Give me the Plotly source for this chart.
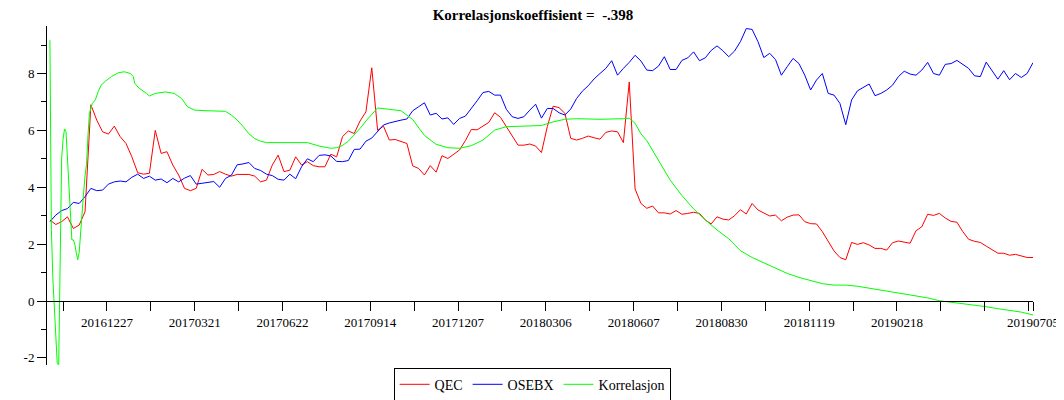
import plotly.graph_objects as go

title_text = "Korrelasjonskoeffisient = \u00a0-.398"
series_names = ["QEC", "OSEBX", "Korrelasjon"]
series_colors = ["#ff0000", "#0000ff", "#00ff00"]

# trading-day sampling step for QEC / OSEBX series
step = 4

qec = [
    2.85, 2.69, 2.79, 2.96, 2.55, 2.67, 3.14, 6.90, 6.36, 5.95, 5.87, 6.15, 5.78, 5.54, 5.07, 4.51,
    4.46, 4.49, 6.00, 5.19, 5.25, 4.78, 4.43, 3.96, 3.88, 3.96, 4.63, 4.43, 4.45,
    4.55, 4.46, 4.39, 4.45, 4.44, 4.45, 4.39, 4.19, 4.25, 4.78, 5.13, 4.55, 4.60, 5.07,
    4.78, 4.90, 4.76, 4.72, 4.72, 5.16, 5.07, 5.78, 5.98, 5.89, 6.33, 6.65, 8.20, 6.00,
    6.15, 5.66, 5.68, 5.60, 5.54, 4.75, 4.66, 4.43, 4.76, 4.53, 5.11, 5.01, 5.16, 5.31,
    5.64, 6.03, 6.02, 6.15, 6.28, 6.62, 6.46, 6.13, 5.78, 5.48, 5.48, 5.52, 5.45, 5.22,
    6.13, 6.85, 6.80, 6.60, 5.72, 5.66, 5.72, 5.80, 5.74, 5.69, 5.93, 5.98, 5.95, 5.57,
    7.70, 3.94, 3.43, 3.26, 3.34, 3.10, 3.10, 3.06, 3.18, 3.05, 3.08, 3.12, 3.08, 2.85,
    2.71, 2.96, 2.88, 2.85, 3.00, 3.21, 3.06, 3.43, 3.20, 3.10, 2.99, 3.02, 2.82, 2.95,
    3.02, 3.03, 2.79, 2.72, 2.71, 2.44, 2.09, 1.76, 1.53, 1.45, 2.06, 1.99, 2.05, 1.97, 1.85,
    1.85, 1.79, 2.05, 2.11, 2.06, 2.03, 2.47, 2.61, 3.05, 3.01, 3.08, 2.92, 2.80, 2.77,
    2.44, 2.17, 2.10, 2.06, 1.93, 1.79, 1.68, 1.68, 1.61, 1.64, 1.59, 1.53, 1.53,
]

osebx = [
    2.79, 3.02, 3.18, 3.25, 3.47, 3.43, 3.67, 3.96, 3.88, 3.90, 4.11, 4.19, 4.22, 4.19, 4.35, 4.46,
    4.31, 4.39, 4.25, 4.29, 4.16, 4.31, 4.19, 4.32, 4.41, 4.11, 4.14, 4.18, 4.20,
    4.00, 4.31, 4.42, 4.79, 4.82, 4.87, 4.66, 4.59, 4.46, 4.41, 4.28, 4.25, 4.46, 4.30,
    4.72, 5.00, 4.90, 5.12, 5.14, 5.10, 4.91, 4.90, 4.94, 5.33, 5.34, 5.62, 5.73, 5.98,
    6.19, 6.26, 6.32, 6.36, 6.40, 6.69, 6.83, 6.97, 6.54, 6.60, 6.40, 6.44, 6.21, 6.42,
    6.50, 6.75, 7.04, 7.33, 7.37, 7.24, 7.24, 6.74, 6.48, 6.42, 6.48, 6.71, 6.92, 6.43,
    6.77, 6.77, 6.62, 6.54, 6.75, 7.12, 7.38, 7.57, 7.81, 8.00, 8.18, 8.45, 7.94, 8.18,
    8.39, 8.64, 8.44, 8.12, 8.10, 8.26, 8.59, 8.14, 8.14, 8.46, 8.55, 8.76, 8.45, 8.55,
    8.81, 8.97, 8.80, 8.59, 8.79, 9.12, 9.58, 9.55, 9.12, 8.56, 8.71, 8.49, 7.94, 8.24,
    8.53, 8.35, 7.94, 7.42, 7.77, 8.00, 7.30, 7.24, 6.95, 6.20, 7.07, 7.39, 7.50, 7.63, 7.22,
    7.30, 7.42, 7.59, 7.89, 8.08, 7.98, 7.94, 8.12, 8.39, 8.00, 7.94, 8.32, 8.35, 8.46,
    8.33, 8.18, 7.92, 7.89, 8.40, 8.12, 7.80, 8.10, 7.78, 8.00, 7.86, 8.00, 8.38,
]

days = list(range(0, step * len(qec), step))

korr_days = [
    0, 1, 2, 3, 4, 5, 6, 7, 8, 9, 10, 11, 12, 13, 14, 15, 16, 17, 18, 19, 20, 21, 22, 23, 24, 25,
    26, 27, 29, 31, 33, 35, 38, 42, 47, 51, 55, 57, 58, 61, 66, 68, 72, 79, 85, 90, 94, 99, 108,
    116, 120, 124, 128, 132, 136, 140, 144, 148, 160, 176, 184, 192, 196, 200, 204, 208, 212,
    216, 220, 224, 232, 240, 248, 256, 264, 272, 280, 288, 296, 304, 312, 320, 336, 344, 352,
    360, 376, 392, 396, 400, 404, 408, 412, 416, 424, 432, 440, 448, 456, 464, 472, 480, 488,
    496, 504, 512, 520, 528, 536, 544, 552, 560, 568, 576, 584, 592, 600, 608, 616, 624, 632,
    640, 648, 656, 664, 672,
]
korr = [
    9.17, 2.50, 0.80, -0.30, -1.60, -2.20, -2.25, 2.20, 5.00, 5.70, 6.05, 5.95, 4.90, 3.80, 2.90,
    2.15, 2.15, 2.00, 1.70, 1.45, 1.70, 2.50, 3.30, 3.80, 4.40, 4.80, 5.80, 6.60, 6.95, 7.07,
    7.36, 7.59, 7.73, 7.89, 8.03, 8.06, 8.00, 7.89, 7.65, 7.48, 7.30, 7.21, 7.30, 7.35, 7.30,
    7.12, 6.83, 6.71, 6.69, 6.69, 6.67, 6.54, 6.36, 6.14, 5.88, 5.71, 5.62, 5.57, 5.58, 5.57,
    5.45, 5.37, 5.39, 5.47, 5.62, 5.83, 6.07, 6.33, 6.57, 6.79, 6.74, 6.69, 6.38, 5.82, 5.51,
    5.39, 5.37, 5.46, 5.66, 6.01, 6.13, 6.15, 6.17, 6.30, 6.39, 6.41, 6.39, 6.41, 6.43, 6.25,
    5.88, 5.64, 5.28, 4.93, 4.25, 3.71, 3.24, 2.85, 2.50, 2.19, 1.77, 1.53, 1.34, 1.14, 0.97,
    0.83, 0.71, 0.61, 0.56, 0.56, 0.52, 0.45, 0.39, 0.32, 0.25, 0.18, 0.11, 0.01, -0.04, -0.08,
    -0.14, -0.20, -0.27, -0.32, -0.39, -0.49,
]

tick_days = list(range(9, 670, 30)) + [672]
label_days = [39, 99, 159, 219, 279, 339, 399, 459, 519, 579]
date_labels = ["20161227", "20170321", "20170622", "20170914", "20171207",
               "20180306", "20180607", "20180830", "20181119", "20190218"]
end_day = 672
end_label = "20190705"

y_tick_vals = [-2, 0, 2, 4, 6, 8]
y_tick_text = ["-2", "0", "2", "4", "6", "8"]
y_minor_vals = [-1, 1, 3, 5, 7, 9]

x_range = [-2, 672]
y_range = [-2.25, 9.67]

label_map = dict(zip(label_days, date_labels))
label_map[end_day] = end_label
tick_text = [label_map.get(t, "") for t in tick_days]

FONT = "'Liberation Serif', 'Times New Roman', Times, serif"

# the page body keeps its default 8px margin, so the figure is sized to fill the rest
FIG_W, FIG_H = 1056, 392

fig = go.Figure()
fig.add_trace(go.Scatter(x=days, y=qec, mode="lines", name=series_names[0],
                         line=dict(color=series_colors[0], width=1)))
fig.add_trace(go.Scatter(x=days, y=osebx, mode="lines", name=series_names[1],
                         line=dict(color=series_colors[1], width=1)))
fig.add_trace(go.Scatter(x=korr_days, y=korr, mode="lines", name=series_names[2],
                         line=dict(color=series_colors[2], width=1)))

zero_pos = (0 - y_range[0]) / (y_range[1] - y_range[0])

fig.update_layout(
    width=FIG_W, height=FIG_H,
    margin=dict(l=39, r=31, t=18, b=35, pad=0, autoexpand=False),
    paper_bgcolor="white", plot_bgcolor="white",
    font=dict(family=FONT, size=13, color="black"),
    title=dict(text="<b>" + title_text + "</b>", x=525 / FIG_W, xref="container",
               xanchor="center", y=1 - 6.5 / FIG_H, yref="container", yanchor="middle",
               font=dict(family=FONT, size=15, color="black")),
    showlegend=True,
    legend=dict(orientation="h", x=0.492, xanchor="center", y=-0.008, yanchor="top",
                bordercolor="black", borderwidth=1, bgcolor="white",
                font=dict(family=FONT, size=14, color="black"),
                itemwidth=30, tracegroupgap=0),
    xaxis=dict(range=x_range, anchor="free", position=zero_pos, automargin=False,
               showgrid=False, zeroline=False, showline=True, linecolor="black", linewidth=1,
               tickmode="array", tickvals=tick_days, ticktext=tick_text,
               ticks="outside", ticklen=9, tickcolor="black", tickwidth=1,
               tickfont=dict(family=FONT, size=13, color="black")),
    yaxis=dict(range=y_range, automargin=False, showgrid=False, zeroline=False, showline=True,
               linecolor="black", linewidth=1,
               tickmode="array", tickvals=y_tick_vals, ticktext=y_tick_text,
               ticks="outside", ticklen=9, tickcolor="black", tickwidth=1,
               tickfont=dict(family=FONT, size=13, color="black"),
               minor=dict(tickmode="array", tickvals=y_minor_vals, ticks="outside",
                          ticklen=5, tickcolor="black", tickwidth=1, showgrid=False)),
)

fig.write_html("out.html")
